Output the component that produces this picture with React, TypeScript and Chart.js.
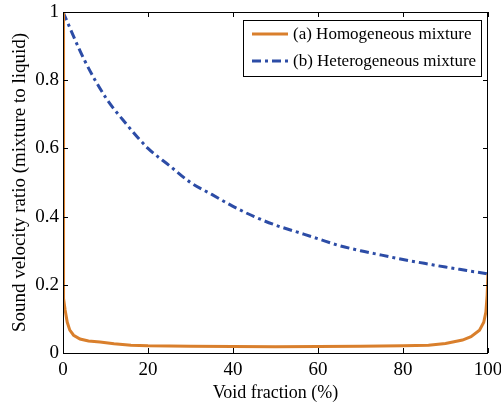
import React, { useEffect, useRef } from "react";
import { Chart, registerables } from "chart.js";

Chart.register(...registerables);

// Void fraction (%) sample points and sound velocity ratio readings
const homoX = [0, 0.05, 0.2, 0.5, 1, 1.6, 2.5, 4, 6, 8.7, 12, 16, 20, 30, 40, 50, 60, 70, 80, 86, 90, 94, 96, 98, 99, 99.5, 99.8, 100];
const homoY = [1.0, 0.4, 0.16, 0.126, 0.09, 0.067, 0.052, 0.041, 0.035, 0.032, 0.027, 0.023, 0.021, 0.02, 0.019, 0.018, 0.019, 0.02, 0.021, 0.023, 0.028, 0.038, 0.048, 0.067, 0.09, 0.12, 0.17, 0.232];

const heteroX = [0, 5, 10, 15, 20, 25, 30, 35, 40, 45, 50, 55, 60, 65, 70, 75, 80, 85, 90, 95, 100];
const heteroY = [1.0, 0.86, 0.75, 0.67, 0.6, 0.55, 0.5, 0.465, 0.43, 0.4, 0.375, 0.355, 0.335, 0.315, 0.3, 0.287, 0.274, 0.263, 0.252, 0.242, 0.232];

const xTicks = [0, 20, 40, 60, 80, 100];
const yTicks = [0, 0.2, 0.4, 0.6, 0.8, 1];

const seriesLabels = ["(a) Homogeneous mixture", "(b) Heterogeneous mixture"];
const xTitle = "Void fraction (%)";
const yTitle = "Sound velocity ratio (mixture to liquid)";

const FONT = "'Liberation Serif', 'Times New Roman', serif";
const ORANGE = "#D97F2C";
const BLUE = "#2C4CA6";

const framePlugin = {
  id: "frameAndLegend",
  afterDatasetsDraw(chart: any) {
    const { ctx, chartArea } = chart;
    const xs = chart.scales.x;
    const ys = chart.scales.y;
    const { left, right, top, bottom } = chartArea;
    ctx.save();
    ctx.strokeStyle = "#000";
    ctx.lineWidth = 1;
    ctx.strokeRect(left + 0.5, top + 0.5, right - left - 1, bottom - top);
    const tl = 5;
    ctx.beginPath();
    for (const v of xTicks) {
      const px = Math.round(xs.getPixelForValue(v)) + 0.5;
      ctx.moveTo(px, bottom);
      ctx.lineTo(px, bottom - tl);
      ctx.moveTo(px, top);
      ctx.lineTo(px, top + tl);
    }
    for (const v of yTicks) {
      const py = Math.round(ys.getPixelForValue(v)) + 0.5;
      ctx.moveTo(left, py);
      ctx.lineTo(left + tl, py);
      ctx.moveTo(right, py);
      ctx.lineTo(right - tl, py);
    }
    ctx.stroke();

    // legend
    const bx = 243, by = 20, bw = 238, bh = 56;
    ctx.fillStyle = "#fff";
    ctx.fillRect(bx, by, bw, bh);
    ctx.strokeStyle = "#000";
    ctx.strokeRect(bx + 0.5, by + 0.5, bw, bh);
    const rows = [34, 61];
    chart.data.datasets.forEach((ds: any, i: number) => {
      const y = rows[i];
      ctx.beginPath();
      ctx.strokeStyle = ds.borderColor;
      ctx.lineWidth = ds.borderWidth;
      ctx.setLineDash(ds.borderDash || []);
      ctx.moveTo(252, y);
      ctx.lineTo(288, y);
      ctx.stroke();
      ctx.setLineDash([]);
      ctx.fillStyle = "#000";
      ctx.font = `17px ${FONT}`;
      ctx.textBaseline = "middle";
      ctx.textAlign = "left";
      ctx.fillText(ds.label, 293, y + 1);
    });
    ctx.restore();
  },
};

export default function App() {
  const ref = useRef<HTMLCanvasElement>(null);
  useEffect(() => {
    document.body.style.margin = "0";
    const chart = new Chart(ref.current as HTMLCanvasElement, {
      type: "line",
      data: {
        datasets: [
          {
            label: seriesLabels[0],
            data: homoX.map((x, i) => ({ x, y: homoY[i] })),
            borderColor: ORANGE,
            borderWidth: 3,
            pointRadius: 0,
            fill: false,
            tension: 0,
          },
          {
            label: seriesLabels[1],
            data: heteroX.map((x, i) => ({ x, y: heteroY[i] })),
            borderColor: BLUE,
            borderWidth: 3,
            borderDash: [9, 4, 3, 4],
            pointRadius: 0,
            fill: false,
            tension: 0.4,
            cubicInterpolationMode: "monotone",
          },
        ],
      },
      options: {
        responsive: false,
        animation: false,
        layout: { padding: { left: 0, right: 13, top: 12, bottom: 0 } },
        plugins: { legend: { display: false }, tooltip: { enabled: false } },
        scales: {
          x: {
            type: "linear",
            min: 0,
            max: 100,
            afterBuildTicks: (s: any) => {
              s.ticks = xTicks.map((v) => ({ value: v }));
            },
            afterFit: (s: any) => {
              s.height = 55;
              s.paddingLeft = 0;
              s.paddingRight = 0;
            },
            grid: { display: false, drawTicks: false },
            border: { display: false },
            ticks: { color: "#000", font: { family: FONT, size: 19 }, padding: 6, maxRotation: 0, callback: (v: any) => String(v) },
            title: { display: true, text: xTitle, color: "#000", font: { family: FONT, size: 18 }, padding: { top: 0, bottom: 4 } },
          },
          y: {
            type: "linear",
            min: 0,
            max: 1,
            afterBuildTicks: (s: any) => {
              s.ticks = yTicks.map((v) => ({ value: v }));
            },
            afterFit: (s: any) => {
              s.width = 63;
              s.paddingTop = 0;
              s.paddingBottom = 0;
            },
            grid: { display: false, drawTicks: false },
            border: { display: false },
            ticks: { color: "#000", font: { family: FONT, size: 19, lineHeight: 1 }, padding: 4, callback: (v: any) => String(v) },
            title: { display: true, text: yTitle, color: "#000", font: { family: FONT, size: 19 }, padding: { top: 9, bottom: 0 } },
          },
        },
      },
      plugins: [framePlugin],
    } as any);
    return () => chart.destroy();
  }, []);
  return (
    <div style={{ position: "absolute", left: 0, top: 0, width: 501, height: 408 }}>
      <canvas ref={ref} width={501} height={408} />
    </div>
  );
}
